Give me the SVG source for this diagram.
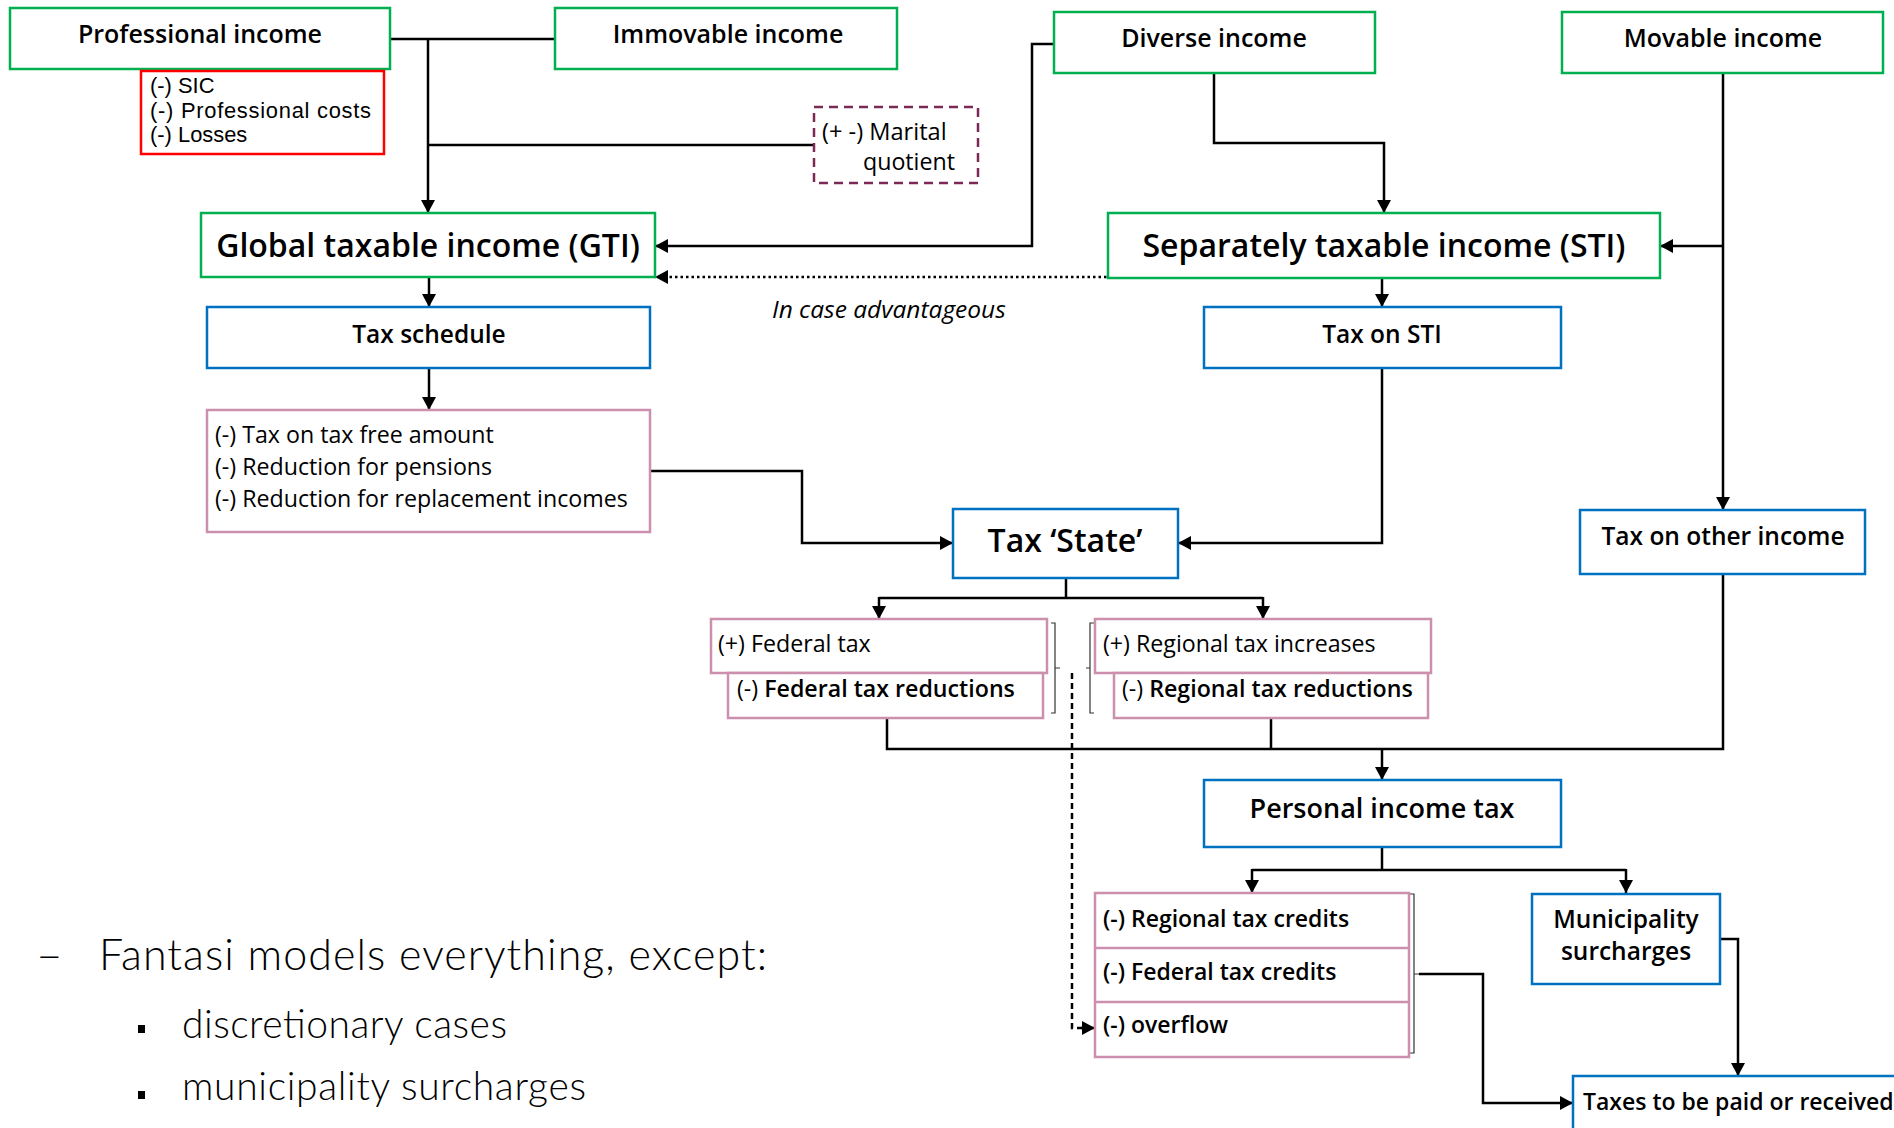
<svg xmlns="http://www.w3.org/2000/svg" width="1894" height="1128" viewBox="0 0 1894 1128">
<style>
.g{fill:#fff;stroke:#00b050;stroke-width:2.5}
.b{fill:#fff;stroke:#0070c0;stroke-width:2.5}
.p{fill:#fff;stroke:#cc8fae;stroke-width:2.5}
.r{fill:#fff;stroke:#ff0000;stroke-width:2.5}
.m{fill:#fff;stroke:#7b2a55;stroke-width:2.5;stroke-dasharray:9 6}
text{font-family:"Open Sans","Noto Sans","Liberation Sans",sans-serif;fill:#000}
.t{font-size:25px;font-weight:600;text-anchor:middle}
.big{font-size:32px;font-weight:600;text-anchor:middle}
.s{font-size:24.5px;font-weight:600;text-anchor:middle}
.sl{font-size:23px;font-weight:600}
.n{font-size:23.2px}
.nb{font-size:23px;font-weight:600}
.rl{font-family:"Liberation Sans",Arial,sans-serif;font-size:21.9px}
.c{fill:none;stroke:#000;stroke-width:2.5}
.br{fill:none;stroke:#333;stroke-width:1.2}
.lt{font-family:Lato,"Open Sans",sans-serif;font-weight:300}
</style>
<defs>
<marker id="a" markerUnits="userSpaceOnUse" markerWidth="14" markerHeight="14" refX="13" refY="7" orient="auto">
<path d="M0,0 L13,7 L0,14 z" fill="#000"/>
</marker>
</defs>
<g id="connectors">
<path class="c" d="M390,39 H555"/>
<path class="c" d="M428,39 V213" marker-end="url(#a)"/>
<path class="c" d="M428,145 H814"/>
<path class="c" d="M1054,44 H1032 V246 H655" marker-end="url(#a)"/>
<path class="c" d="M1112,277 H655" stroke-dasharray="2.5 3" marker-end="url(#a)"/>
<path class="c" d="M1214,73 V143 H1384 V213" marker-end="url(#a)"/>
<path class="c" d="M1723,73 V510" marker-end="url(#a)"/>
<path class="c" d="M1723,246 H1660" marker-end="url(#a)"/>
<path class="c" d="M429,277 V307" marker-end="url(#a)"/>
<path class="c" d="M429,368 V410" marker-end="url(#a)"/>
<path class="c" d="M650,471 H802 V543 H953" marker-end="url(#a)"/>
<path class="c" d="M1382,278 V307" marker-end="url(#a)"/>
<path class="c" d="M1382,368 V543 H1178" marker-end="url(#a)"/>
<path class="c" d="M1066,578 V598 M879,598 H1263"/>
<path class="c" d="M879,597 V619" marker-end="url(#a)"/>
<path class="c" d="M1263,597 V619" marker-end="url(#a)"/>
<path class="c" d="M887,718 V749 H1723 V574 M1271,718 V749"/>
<path class="c" d="M1382,748 V780" marker-end="url(#a)"/>
<path class="c" d="M1382,847 V870 M1252,870 H1626"/>
<path class="c" d="M1252,869 V893" marker-end="url(#a)"/>
<path class="c" d="M1626,869 V893" marker-end="url(#a)"/>
<path class="c" d="M1419,974 H1483 V1103 H1573" marker-end="url(#a)"/>
<path class="c" d="M1720,939 H1738 V1076" marker-end="url(#a)"/>
<path class="c" d="M1072,673 V1028 H1082" stroke-width="2" stroke-dasharray="6 4"/>
<path class="c" d="M1081,1028 H1095" stroke-width="2" marker-end="url(#a)"/>
<path class="br" d="M1051,623 H1055 V713 H1051 M1055,668 H1060"/>
<path class="br" d="M1094,623 H1090 V713 H1094 M1090,668 H1086"/>
<path class="br" d="M1408,894 H1414 V1053 H1408 M1414,974 H1419"/>
</g>
<g id="professional-income"><rect class="g" x="10" y="8" width="380" height="61"/><text class="t" x="200" y="43">Professional income</text></g>
<g id="deductions"><rect class="r" x="141" y="71" width="243" height="83"/><text class="rl" x="150" y="93">(-) SIC</text><text class="rl" x="150" y="117.5" textLength="221" lengthAdjust="spacing">(-) Professional costs</text><text class="rl" x="150" y="142">(-) Losses</text></g>
<g id="immovable-income"><rect class="g" x="555" y="8" width="342" height="61"/><text class="t" x="728" y="43">Immovable income</text></g>
<g id="marital-quotient"><rect class="m" x="814" y="107" width="164" height="76"/><text class="n" x="822" y="140" style="font-size:23.6px">(+ -) Marital</text><text class="n" x="863" y="170">quotient</text></g>
<g id="diverse-income"><rect class="g" x="1054" y="12" width="321" height="61"/><text class="t" x="1214" y="47">Diverse income</text></g>
<g id="movable-income"><rect class="g" x="1562" y="12" width="321" height="61"/><text class="t" x="1723" y="47">Movable income</text></g>
<g id="gti"><rect class="g" x="201" y="213" width="454" height="64"/><text class="big" x="428" y="257">Global taxable income (GTI)</text></g>
<g id="sti"><rect class="g" x="1108" y="213" width="552" height="65"/><text class="big" x="1384" y="257">Separately taxable income (STI)</text></g>
<g id="in-case"><text class="n" x="772" y="318" style="font-size:24.5px;font-style:italic">In case advantageous</text></g>
<g id="tax-schedule"><rect class="b" x="207" y="307" width="443" height="61"/><text class="s" x="429" y="343">Tax schedule</text></g>
<g id="tax-on-sti"><rect class="b" x="1204" y="307" width="357" height="61"/><text class="s" x="1382" y="343">Tax on STI</text></g>
<g id="reductions"><rect class="p" x="207" y="410" width="443" height="122"/><text class="n" x="215" y="443">(-) Tax on tax free amount</text><text class="n" x="215" y="475">(-) Reduction for pensions</text><text class="n" x="215" y="507">(-) Reduction for replacement incomes</text></g>
<g id="tax-state"><rect class="b" x="953" y="509" width="225" height="69"/><text class="big" x="1065" y="552">Tax ‘State’</text></g>
<g id="tax-other"><rect class="b" x="1580" y="510" width="285" height="64"/><text class="s" x="1723" y="545">Tax on other income</text></g>
<g id="federal-tax"><rect class="p" x="711" y="619" width="336" height="54"/><text class="n" x="718" y="652">(+) Federal tax</text></g>
<g id="federal-reductions"><rect class="p" x="728" y="673" width="315" height="45"/><text class="n" x="737" y="697">(-) <tspan font-weight="600">Federal tax reductions</tspan></text></g>
<g id="regional-increases"><rect class="p" x="1095" y="619" width="336" height="54"/><text class="n" x="1103" y="652">(+) Regional tax increases</text></g>
<g id="regional-reductions"><rect class="p" x="1114" y="673" width="314" height="45"/><text class="n" x="1122" y="697">(-) <tspan font-weight="600">Regional tax reductions</tspan></text></g>
<g id="personal-income-tax"><rect class="b" x="1204" y="780" width="357" height="67"/><text class="t" x="1382" y="818" style="font-size:27px">Personal income tax</text></g>
<g id="credits"><rect class="p" x="1095" y="893" width="314" height="164"/><path d="M1095,948 H1409 M1095,1002 H1409" stroke="#cc8fae" stroke-width="2.5"/><text class="nb" x="1103" y="927">(-) Regional tax credits</text><text class="nb" x="1103" y="980">(-) Federal tax credits</text><text class="nb" x="1103" y="1033">(-) overflow</text></g>
<g id="municipality"><rect class="b" x="1532" y="894" width="188" height="90"/><text class="s" x="1626" y="928">Municipality</text><text class="s" x="1626" y="960">surcharges</text></g>
<g id="taxes-paid"><rect class="b" x="1573" y="1076" width="340" height="70"/><text class="sl" x="1583" y="1110">Taxes to be paid or received</text></g>
<g id="notes"><text class="lt" x="36" y="970" font-size="46">–</text><text class="lt" x="99" y="970" font-size="43" textLength="668" lengthAdjust="spacing">Fantasi models everything, except:</text><rect x="138" y="1025" width="7" height="8" fill="#000"/><text class="lt" x="182" y="1038" font-size="39" textLength="325" lengthAdjust="spacing">discretionary cases</text><rect x="138" y="1091" width="7" height="8" fill="#000"/><text class="lt" x="182" y="1100" font-size="39" textLength="404" lengthAdjust="spacing">municipality surcharges</text></g>
</svg>
